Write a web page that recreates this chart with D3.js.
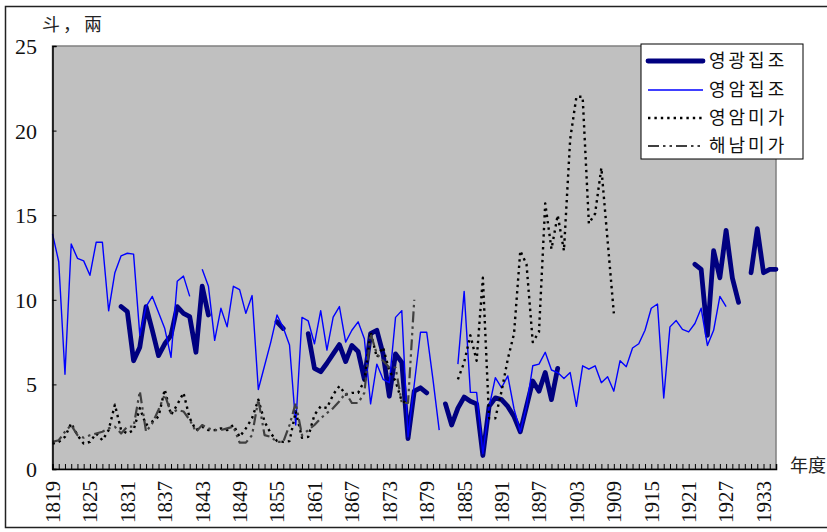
<!DOCTYPE html>
<html><head><meta charset="utf-8">
<script src="https://cdn.jsdelivr.net/npm/d3@7/dist/d3.min.js"></script>
<style>
body{margin:0;background:#fff;}
svg{display:block;}
</style></head>
<body>
<svg id="chart" width="827" height="532"></svg>
<script>
// ---- data ----
const firstYear = 1819, lastYear = 1935;
const tickYears = [1819,1825,1831,1837,1843,1849,1855,1861,1867,1873,1879,1885,1891,1897,1903,1909,1915,1921,1927,1933];
const yTicks = [0,5,10,15,20,25];
const seriesNames = ["영광집조","영암집조","영암미가","해남미가"];

// 영광집조 : values from 1830
const yeonggwangStart = 1830;
const yeonggwangJipjo = [
 9.6,9.3,6.4,7.2,9.6,8.2,6.7,7.4,7.9,9.6,9.2,9.0,6.9,10.8,9.1,          // 1830-1844
 null,null,null,null,null,null,null,null,null,null,                      // 1845-1854
 8.7,8.3,                                                                // 1855-1856
 null,null,null,                                                         // 1857-1859
 8.0,5.95,5.75,6.25,6.8,7.35,6.35,7.3,6.95,5.3,8.0,8.2,6.8,4.3,6.8,6.3,1.8,4.6,4.8,4.5, // 1860-1879
 null,null,                                                              // 1880-1881
 3.85,2.6,3.6,4.25,4.0,3.85,0.8,3.7,4.2,4.1,3.7,3.1,2.2,3.7,5.2,4.6,5.7,4.1,5.95, // 1882-1900
 null,null,null,null,null,null,null,null,null,null,null,null,null,null,null,null,null,null,null,null,null, // 1901-1921
 12.1,11.8,7.9,12.9,11.3,14.1,11.3,9.85,                                 // 1922-1929
 null,                                                                   // 1930
 11.6,14.2,11.6,11.8,11.8                                                // 1931-1935
];

// 영암집조 : values from 1819
const yeongamJipjoStart = 1819;
const yeongamJipjo = [
 13.9,12.25,5.6,13.3,12.45,12.3,11.45,13.4,13.4,9.35,11.6,12.6,12.75,12.7,7.9,9.6,10.2,9.25,8.3,6.6,11.1,11.4,10.2, // 1819-1841
 null,                                                                   // 1842
 11.8,10.8,7.6,9.5,8.4,10.8,10.6,9.2,10.25,4.7,6.1,7.5,9.1,8.35,7.33,2.6,8.96,8.75,7.4,9.36,7.03,8.98,9.6, // 1843-1865
 7.5,8.2,8.7,7.7,3.85,6.2,5.3,5.1,8.96,9.36,1.9,5.0,8.08,8.08,5.3,2.3,   // 1866-1881
 null,null,                                                              // 1882-1883
 6.2,10.5,4.53,4.53,0.9,3.65,5.4,4.8,5.5,3.55,2.2,3.7,6.1,6.2,6.9,5.85,5.7,5.35,5.7,3.7, // 1884-1903
 6.1,5.9,6.1,5.1,5.45,4.6,6.4,6.05,7.15,7.4,8.2,9.5,9.75,4.2,8.4,8.77,8.25,8.1,8.6,9.5, // 1904-1923
 7.3,8.2,10.2,9.6                                                        // 1924-1927
];

// 영암미가 : values from 1819
const yeongamMigaStart = 1819;
const yeongamMiga = [
 1.5,1.6,1.9,2.7,2.0,1.5,1.6,2.1,1.7,2.3,3.8,2.3,2.1,2.3,3.6,2.6,2.8,3.1,4.7,3.2, // 1819-1838
 3.8,4.5,3.0,2.3,2.5,2.3,2.3,2.4,2.3,2.6,1.9,2.4,3.0,4.1,2.8,2.1,1.65,1.6,1.65,3.4, // 1839-1858
 1.85,1.9,3.2,3.7,3.6,4.4,4.9,4.4,4.5,4.5,5.2,8.1,6.6,7.2,5.8,5.2,4.0,3.9,       // 1859-1876
 null,null,null,null,null,null,null,                                     // 1877-1883
 5.3,6.3,7.9,6.4,11.3,3.0,3.0,4.6,6.5,8.0,12.9,12.1,7.5,8.1,15.7,13.0,15.0,12.9,19.5,22.0, // 1884-1903
 22.0,14.5,15.1,17.8,13.5,9.2                                            // 1904-1909
];

// 해남미가 : values from 1819
const haenamMigaStart = 1819;
const haenamMiga = [
 1.6,1.7,2.2,2.6,2.0,1.85,2.0,2.1,2.2,2.4,2.5,2.1,2.5,2.5,4.6,2.2,2.7,3.5,4.4,3.3, // 1819-1838
 3.5,3.4,2.9,2.2,2.6,2.4,2.3,2.3,2.4,2.5,1.56,1.56,2.0,4.1,2.0,1.9,1.6,1.6,2.6,3.9, // 1839-1858
 2.0,2.3,2.6,3.0,3.3,3.6,4.0,4.5,3.9,3.9,4.5,8.0,6.8,6.4,6.0,6.0,3.9,3.9,10.0   // 1859-1877
];

// ---- chart ----
const svg = d3.select("#chart");
const W = 827, H = 532;
const plot = {left: 52.5, right: 776, top: 46, bottom: 469};

const x = d3.scaleLinear().domain([firstYear, lastYear]).range([plot.left, plot.right]);
const y = d3.scaleLinear().domain([0, 25]).range([plot.bottom, plot.top]);

svg.append("rect").attr("width", W).attr("height", H).attr("fill", "#fff");
// outer frame
svg.append("path").attr("d", `M827,6.5 H5.5 V527.5 H827`).attr("fill","none").attr("stroke","#222").attr("stroke-width",1.5);

// plot area
svg.append("rect").attr("x", plot.left).attr("y", plot.top)
  .attr("width", plot.right - plot.left).attr("height", plot.bottom - plot.top)
  .attr("fill", "#c0c0c0").attr("stroke", "#808080").attr("stroke-width", 1.5);

function toPoints(start, arr){ return arr.map((v,i)=>({year:start+i, v})); }
const line = d3.line().defined(d => d.v != null).x(d => x(d.year)).y(d => y(d.v));

const series = [
  {name: seriesNames[0], data: toPoints(yeonggwangStart, yeonggwangJipjo), stroke:"#000080", width:4.8, dash:null, cap:"round"},
  {name: seriesNames[1], data: toPoints(yeongamJipjoStart, yeongamJipjo), stroke:"#0000ff", width:1.4, dash:null, cap:"butt"},
  {name: seriesNames[2], data: toPoints(yeongamMigaStart, yeongamMiga), stroke:"#000000", width:2.4, dash:"2.4,4", cap:"butt"},
  {name: seriesNames[3], data: toPoints(haenamMigaStart, haenamMiga), stroke:"#404040", width:2.2, dash:"11,4,2.5,4,2.5,4", cap:"butt"}
];

const g = svg.append("g");
series.forEach(s => {
  g.append("path").datum(s.data).attr("d", line)
    .attr("fill","none").attr("stroke", s.stroke).attr("stroke-width", s.width)
    .attr("stroke-linejoin","round").attr("stroke-linecap", s.cap)
    .attr("stroke-dasharray", s.dash);
});

// axes
const xAxisG = svg.append("g").attr("transform", `translate(0,${plot.bottom})`)
  .call(d3.axisBottom(x).tickValues(d3.range(firstYear, lastYear+1)).tickSize(-5).tickFormat(""));
xAxisG.select(".domain").attr("stroke","#000").attr("stroke-width",1.5);
xAxisG.selectAll(".tick line").attr("stroke","#000");

const yAxisG = svg.append("g").attr("transform", `translate(${plot.left},0)`)
  .call(d3.axisLeft(y).tickValues(yTicks).tickSize(-4).tickFormat(""));
yAxisG.select(".domain").attr("stroke","#000").attr("stroke-width",1.5);
yAxisG.selectAll(".tick line").attr("stroke","#000");

// y labels
svg.append("g").selectAll("text").data(yTicks).join("text")
  .attr("x", 37).attr("y", d => y(d)).attr("dy","0.36em")
  .attr("text-anchor","end")
  .style("font-family","'Liberation Serif','DejaVu Serif',serif").style("font-size","22px").style("fill","#111")
  .text(d => d);

// x labels (rotated)
svg.append("g").selectAll("text").data(tickYears).join("text")
  .attr("transform", d => `translate(${x(d)},481) rotate(-90)`)
  .attr("text-anchor","end").attr("dy","0.35em")
  .style("font-family","'Liberation Serif','DejaVu Serif',serif").style("font-size","21px").style("fill","#111")
  .text(d => d);

// unit labels
svg.append("text").attr("x", 42).attr("y", 31)
  .style("font-family","'Noto Sans CJK SC','Noto Sans CJK KR',sans-serif").style("font-size","18px").style("letter-spacing","3px").style("fill","#222")
  .text("斗，兩");
svg.append("text").attr("x", 790).attr("y", 472)
  .style("font-family","'Noto Sans CJK SC','Noto Sans CJK KR',sans-serif").style("font-size","18px").style("fill","#222")
  .text("年度");

// legend
const lg = svg.append("g");
lg.append("rect").attr("x",641).attr("y",44).attr("width",162).attr("height",115)
  .attr("fill","#fff").attr("stroke","#000").attr("stroke-width",1);
const rowY = [61, 90, 118, 146];
series.forEach((s,i) => {
  lg.append("line").attr("x1",648).attr("x2",703).attr("y1",rowY[i]).attr("y2",rowY[i])
    .attr("stroke", s.stroke).attr("stroke-width", s.width).attr("stroke-dasharray", s.dash)
    .attr("stroke-linecap", s.cap);
  lg.append("text").attr("x",709).attr("y",rowY[i]).attr("dy","0.36em")
    .style("font-family","'Noto Sans CJK KR',sans-serif").style("font-size","18px").style("letter-spacing","3px").style("fill","#111")
    .text(s.name);
});
</script>
</body></html>
